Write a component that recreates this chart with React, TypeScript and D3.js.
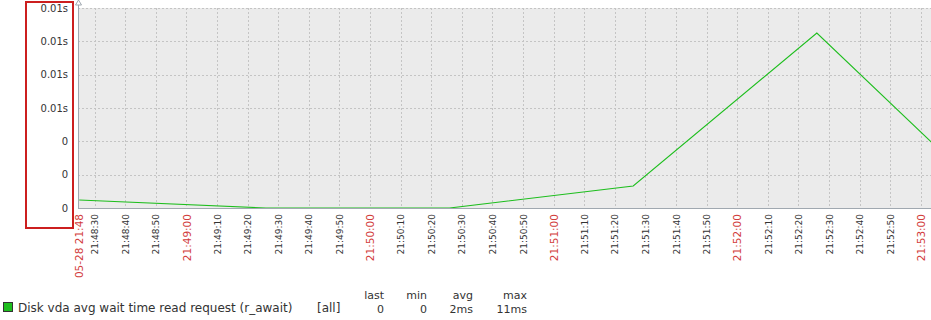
import React from "react";
import * as d3 from "d3";

const W = 931;
const H = 320;

const pointTimes = ["2020-05-28T21:48:25", "2020-05-28T21:49:26", "2020-05-28T21:50:26", "2020-05-28T21:51:26", "2020-05-28T21:52:26", "2020-05-28T21:53:26"];
const pointValues = [0.00048, 0, 0, 0.00132, 0.0105, 0];

const yTickValues = [0, 0.002, 0.004, 0.006, 0.008, 0.01, 0.012];
const yTickLabels = ["0", "0", "0", "0.01s", "0.01s", "0.01s", "0.01s"];

const startLabel = "05-28 21:48";
const legendName = "Disk vda avg wait time read request (r_await)";
const legendFunc = "[all]";
const legendHeaders = ["last", "min", "avg", "max"];
const legendValues = ["0", "0", "2ms", "11ms"];

const domainStart = new Date("2020-05-28T21:48:24.6");
const domainEnd = new Date("2020-05-28T21:53:03.3");
const tickStart = new Date("2020-05-28T21:48:30");
const tickEnd = new Date("2020-05-28T21:53:00");

const plot = { left: 78, right: 931, top: 8, bottom: 208 };

export default function App() {
  const x = d3.scaleTime().domain([domainStart, domainEnd]).range([plot.left, plot.right]);
  const y = d3.scaleLinear().domain([0, 0.012]).range([plot.bottom, plot.top]);
  const ticks = d3.timeSecond.every(10)!.range(tickStart, new Date(tickEnd.getTime() + 1));
  const fmt = d3.timeFormat("%H:%M:%S");
  const data = pointTimes.map((t, i) => ({ t: new Date(t), v: pointValues[i] }));
  const line = d3.line<{ t: Date; v: number }>().x(d => x(d.t)).y(d => y(d.v));
  const grid = "#c4c4c4";
  const axisCol = "#a0a8b0";
  const textCol = "#333";
  const red = "#d23c3c";
  const font = "DejaVu Sans, sans-serif";
  const colRight = [384, 427, 473, 527];

  return (
    <svg width={W} height={H} style={{ position: "absolute", left: 0, top: 0, background: "#fff" }} fontFamily={font}>
      <defs>
        <clipPath id="plotclip">
          <rect x={plot.left} y={plot.top} width={plot.right - plot.left} height={plot.bottom - plot.top} />
        </clipPath>
      </defs>
      <rect x={plot.left} y={plot.top} width={plot.right - plot.left} height={plot.bottom - plot.top} fill="#ebebeb" />
      {yTickValues.slice(1).map((v, i) => (
        <line key={"hg" + i} x1={plot.left} x2={plot.right} y1={Math.round(y(v)) + 0.5} y2={Math.round(y(v)) + 0.5} stroke={grid} strokeDasharray="2,2" />
      ))}
      {ticks.map((t, i) => (
        <line key={"vg" + i} x1={Math.round(x(t)) + 0.5} x2={Math.round(x(t)) + 0.5} y1={plot.top} y2={plot.bottom} stroke={grid} strokeDasharray="2,2" />
      ))}
      <path d={line(data) || ""} fill="none" stroke="#1ebe1e" strokeWidth={1.1} clipPath="url(#plotclip)" />
      <line x1={plot.left + 0.5} x2={plot.left + 0.5} y1={2} y2={plot.bottom + 1} stroke={axisCol} />
      <path d={`M${plot.left - 2.5},${5} L${plot.left + 0.5},${0} L${plot.left + 3.5},${5} Z`} fill="#fff" stroke={axisCol} />
      <line x1={plot.left} x2={plot.right} y1={plot.bottom + 0.5} y2={plot.bottom + 0.5} stroke={axisCol} />
      {yTickValues.map((v, i) => (
        <text key={"yl" + i} x={68} y={y(v)} dy="0.35em" textAnchor="end" fontSize={10} fill={textCol}>
          {yTickLabels[i]}
        </text>
      ))}
      <text transform={`translate(${plot.left + 1},214) rotate(-90)`} dy="0.35em" textAnchor="end" fontSize={10.5} fill={red}>
        {startLabel}
      </text>
      {ticks.map((t, i) => {
        const major = t.getSeconds() === 0;
        return (
          <text key={"xl" + i} transform={`translate(${x(t) + 0.5},214) rotate(-90)`} dy="0.35em" textAnchor="end" fontSize={major ? 10.5 : 9} fill={major ? red : textCol}>
            {fmt(t)}
          </text>
        );
      })}
      <rect x={26} y={2} width={47} height={226} fill="none" stroke="#cc1f1f" strokeWidth={2} />
      <rect x={3.5} y={302.5} width={9} height={9} fill="#1ebe1e" stroke="#333" strokeWidth={1} />
      <text x={18} y={308} dy="0.35em" fontSize={12} fill={textCol}>{legendName}</text>
      <text x={317} y={308} dy="0.35em" fontSize={12} fill={textCol}>{legendFunc}</text>
      {legendHeaders.map((h, i) => (
        <text key={"lh" + i} x={colRight[i]} y={295} dy="0.35em" textAnchor="end" fontSize={11} fill={textCol}>{h}</text>
      ))}
      {legendValues.map((v, i) => (
        <text key={"lv" + i} x={colRight[i]} y={309} dy="0.35em" textAnchor="end" fontSize={11} fill={textCol}>{v}</text>
      ))}
    </svg>
  );
}
